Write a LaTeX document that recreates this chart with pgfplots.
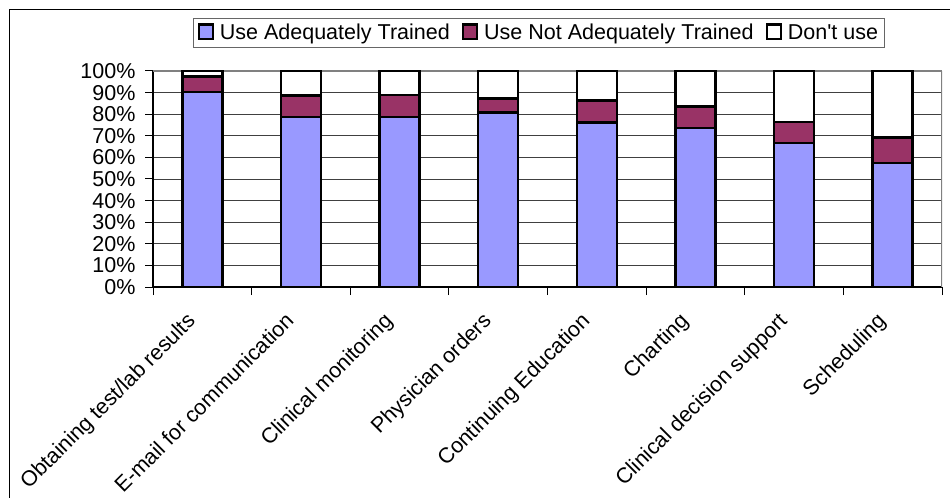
\documentclass[border=0pt]{standalone}
\usepackage{fontspec}
\setmainfont{Liberation Sans}
\newfontfamily\arial{Liberation Sans}
\usepackage{pgfplots}
\pgfplotsset{compat=1.18}

\definecolor{adeq}{HTML}{9999FF}
\definecolor{notadeq}{HTML}{993366}

% share of respondents, per application
\pgfplotstableread{
idx adeq notadeq dontuse
1   90.3  7.1   2.6
2   78.6  10.0  11.4
3   78.8  10.2  11.0
4   80.7  6.5   12.8
5   76.1  10.2  13.7
6   73.6  9.9   16.5
7   66.8  9.7   23.5
8   57.5  11.8  30.7
}\usage

\newcommand{\lbl}{\arial\fontsize{21.6pt}{24pt}\selectfont}

\begin{document}
\begin{tikzpicture}
\begin{axis}[
    at={(153bp,211bp)}, anchor=south west,
    scale only axis,
    width=789bp, height=216bp,
    ybar stacked, bar width=40bp, bar shift=0pt,
    xmin=0.5, xmax=8.5,
    ymin=0, ymax=100,
    axis lines*=left,
    axis line style={-, line width=1.4bp, black},
    ytick={0,10,...,100},
    yticklabels={0\%,10\%,20\%,30\%,40\%,50\%,60\%,70\%,80\%,90\%,100\%},
    xtick={0.5,1.5,...,8.5},
    x tick label as interval,
    xticklabels={Obtaining test/lab results, E-mail for communication, Clinical monitoring,
        Physician orders, Continuing Education, Charting, Clinical decision support, Scheduling},
    tick align=outside,
    major tick length=8bp,
    tick style={line width=1bp, black},
    ymajorgrids=true,
    major grid style={black!75, line width=0.8bp},
    tick label style={font=\lbl},
    yticklabel style={xshift=-6bp},
    xticklabel style={xshift=-17bp, yshift=-16bp, rotate=45, anchor=north east, inner sep=0pt},
    legend columns=3,
    legend style={
        at={(0.489,1.178)}, anchor=center,
        draw=black!60, line width=0.8bp,
        font=\lbl, inner sep=4bp,
        /tikz/every odd column/.append style={column sep=4bp},
        /tikz/every even column/.append style={column sep=10bp},
    },
    legend image code/.code={
        \draw[#1,/tikz/.cd,draw=black,line width=2.2bp] (0bp,-6.5bp) rectangle (14bp,8bp);
    },
]
\addplot[fill=adeq, draw=black, line width=2.4bp] table[x=idx, y=adeq] {\usage};
\addplot[fill=notadeq, draw=black, line width=2.4bp] table[x=idx, y=notadeq] {\usage};
\addplot[fill=white, draw=black, line width=2.4bp] table[x=idx, y=dontuse] {\usage};
\legend{Use Adequately Trained, Use Not Adequately Trained, Don't use}
\draw[gray, line width=1.4bp] (rel axis cs:1,0) -- (rel axis cs:1,1);
\draw[gray, line width=1.4bp] (rel axis cs:0,1) -- (rel axis cs:1,1);
\end{axis}
\draw[line width=1bp] (9bp,0bp) -- (9bp,488bp) -- (950bp,488bp);
\pgfresetboundingbox
\path (0bp,0bp) rectangle (950bp,498bp);
\end{tikzpicture}
\end{document}
